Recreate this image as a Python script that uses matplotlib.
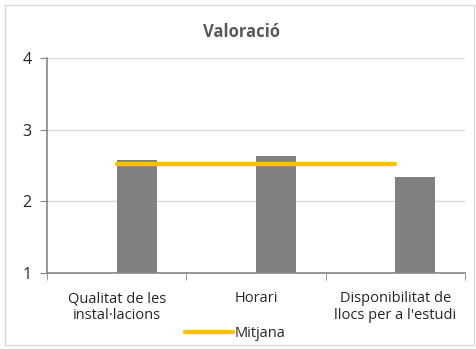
import matplotlib.pyplot as plt
import matplotlib.patches as mpatches
import numpy as np

plt.rcParams['font.family'] = ['Open Sans', 'DejaVu Sans']

# dades
categories = ['Qualitat de les\ninstal·lacions', 'Horari', 'Disponibilitat de\nllocs per a l\'estudi']
valors = [2.57, 2.63, 2.34]
mitjana = [2.52, 2.52, 2.52]
y_ticks = [1, 2, 3, 4]

fig = plt.figure(figsize=(4.76, 3.49), dpi=100)
ax = fig.add_axes([0.0987, 0.2178, 0.8782, 0.616])

x = np.arange(len(categories))
ax.bar(x + 0.143, valors, width=0.286, color='#808080', bottom=0, zorder=2)
ax.plot(x, mitjana, color='#FFC000', lw=3.2, solid_capstyle='round', zorder=3, label='Mitjana')

ax.set_xlim(-0.5, 2.5)
ax.set_ylim(1, 4)
ax.set_yticks(y_ticks)
ax.set_yticklabels([str(v) for v in y_ticks], fontsize=11.5, color='#262626')
ax.set_xticks(x)
ax.set_xticklabels(categories, fontsize=10.5, color='#262626', linespacing=1.15)
ax.set_xticks(np.arange(-0.5, 3, 1), minor=True)
ax.tick_params(axis='x', which='major', length=0, pad=13)
ax.tick_params(axis='x', which='minor', length=5, color='#868686', direction='out')
ax.tick_params(axis='y', length=5, color='#868686', pad=6)
ax.grid(axis='y', color='#D9D9D9', lw=1, zorder=0)

for s in ['top', 'right']:
    ax.spines[s].set_visible(False)
for s in ['left', 'bottom']:
    ax.spines[s].set_color('#868686')
    ax.spines[s].set_linewidth(1.2)

fig.text(0.508, 0.908, 'Valoració', ha='center', va='center', fontsize=12,
         fontweight='bold', color='#595959')

ax.legend(loc='center', bbox_to_anchor=(0.45, -0.28), frameon=False, fontsize=10.5,
          handlelength=3.3, handletextpad=0.1, borderaxespad=0,
          labelcolor='#262626')

# vora del gràfic
fig.patches.append(mpatches.Rectangle((0.011, 0.012), 0.985, 0.975, transform=fig.transFigure,
                                      fill=False, edgecolor='#D9D9D9', lw=1))

plt.savefig('out.png', dpi=100)
